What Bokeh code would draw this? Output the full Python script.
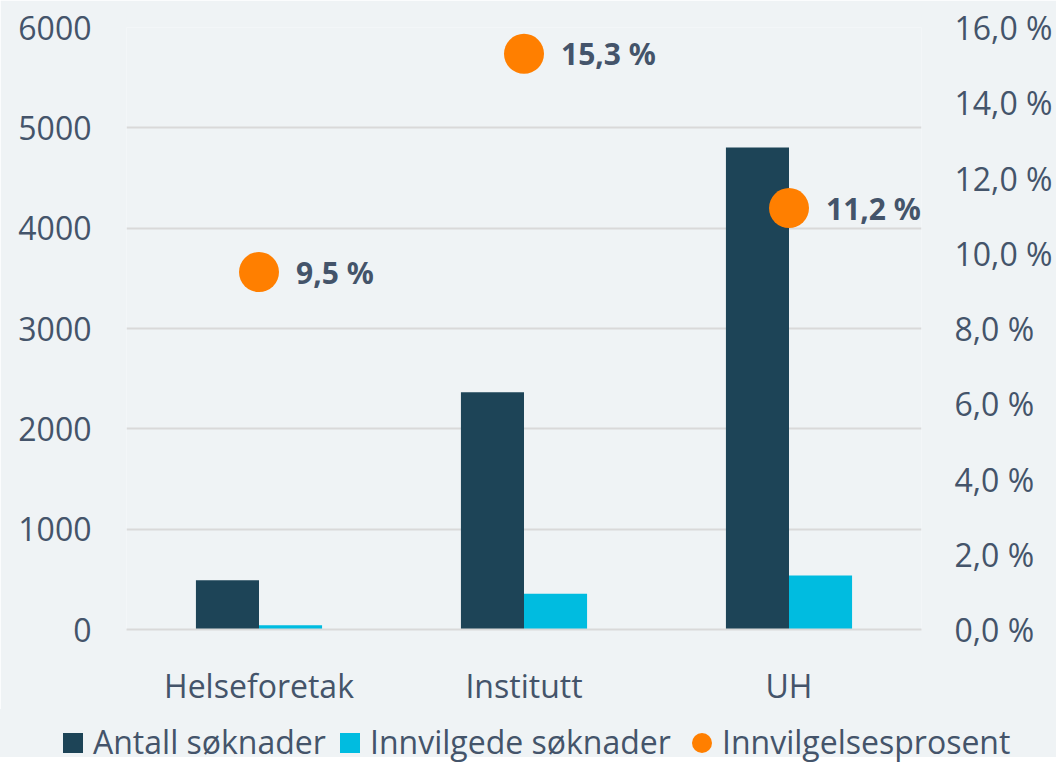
from bokeh.plotting import figure
from bokeh.models import (ColumnDataSource, FactorRange, Range1d, LinearAxis, FixedTicker,
                          LabelSet, Div)
from bokeh.layouts import column
from bokeh.core.properties import value
from bokeh.transform import dodge
from bokeh.embed import file_html
from bokeh.resources import INLINE

categories = ["Helseforetak", "Institutt", "UH"]
antall = [490, 2365, 4805]
innvilgede = [42, 357, 537]
prosent = [9.5, 15.3, 11.2]
prosent_labels = ["9,5 %", "15,3 %", "11,2 %"]
left_ticks = [0, 1000, 2000, 3000, 4000, 5000, 6000]
right_ticks = [0, 2, 4, 6, 8, 10, 12, 14, 16]
right_tick_labels = ["0,0 %", "2,0 %", "4,0 %", "6,0 %", "8,0 %", "10,0 %", "12,0 %", "14,0 %", "16,0 %"]
series_names = ["Antall søknader", "Innvilgede søknader", "Innvilgelsesprosent"]

BG = "#EFF3F5"
TXT = "#44546A"
FONT = "Open Sans"
BOLDFONT = "Noto Sans"
FS = "32px"
DARK = "#1D4457"
LIGHT = "#00BCE0"
ORANGE = "#FF7F00"
GRID = "#D9D9D9"

src = ColumnDataSource(dict(cat=categories, antall=antall, innvilgede=innvilgede,
                            prosent=prosent, lab=prosent_labels))

p = figure(width=1056, height=709, x_range=FactorRange(*categories), y_range=Range1d(0, 6000),
           output_backend="svg", toolbar_location=None,
           min_border_left=126, min_border_right=135, min_border_top=27, min_border_bottom=78)
p.background_fill_color = BG
p.border_fill_color = BG
p.outline_line_color = None
p.extra_y_ranges = {"pct": Range1d(0, 16)}

p.vbar(x=dodge("cat", -0.119, range=p.x_range), top="antall", width=0.238, source=src,
       fill_color=DARK, line_color=None)
p.vbar(x=dodge("cat", 0.119, range=p.x_range), top="innvilgede", width=0.238, source=src,
       fill_color=LIGHT, line_color=None)
p.scatter(x="cat", y="prosent", y_range_name="pct", size=40, source=src,
          fill_color=ORANGE, line_color=None)

labels = LabelSet(x="cat", y="prosent", y_range_name="pct", text="lab", source=src,
                  x_offset=37, y_offset=0, text_baseline="middle", text_align="left",
                  text_font=value(BOLDFONT), text_font_size=value("30px"),
                  text_font_style="bold", text_color=TXT)
p.add_layout(labels)

# left axis
p.yaxis.ticker = FixedTicker(ticks=left_ticks)
p.yaxis.axis_line_color = None
p.yaxis.major_tick_line_color = None
p.yaxis.major_tick_out = 0
p.yaxis.minor_tick_line_color = None
p.yaxis.major_label_standoff = 35
p.yaxis.major_label_text_font = FONT
p.yaxis.major_label_text_font_size = FS
p.yaxis.major_label_text_color = TXT

# right axis
ax2 = LinearAxis(y_range_name="pct", ticker=FixedTicker(ticks=right_ticks),
                 major_label_overrides={t: l for t, l in zip(right_ticks, right_tick_labels)})
ax2.axis_line_color = None
ax2.major_tick_line_color = None
ax2.major_tick_out = 0
ax2.minor_tick_line_color = None
ax2.major_label_standoff = 33
ax2.major_label_text_font = FONT
ax2.major_label_text_font_size = FS
ax2.major_label_text_color = TXT
p.add_layout(ax2, "right")

# x axis
p.xaxis.axis_line_color = GRID
p.xaxis.axis_line_width = 2
p.xaxis.major_tick_line_color = None
p.xaxis.major_tick_out = 0
p.xaxis.minor_tick_line_color = None
p.xaxis.major_label_standoff = 34
p.xaxis.major_label_text_font = FONT
p.xaxis.major_label_text_font_size = FS
p.xaxis.major_label_text_color = TXT

p.xgrid.grid_line_color = None
p.ygrid.ticker = FixedTicker(ticks=left_ticks)
p.ygrid.grid_line_color = GRID
p.ygrid.grid_line_width = 2

# legend strip
swatches = [
    (63, 93, "width:20px;height:20px;background:%s;" % DARK),
    (340, 370, "width:20px;height:20px;background:%s;" % LIGHT),
    (692, 722, "width:20px;height:20px;border-radius:50%%;background:%s;" % ORANGE),
]
parts = []
for (sx, tx, sw), name in zip(swatches, series_names):
    parts.append('<span style="position:absolute;left:%dpx;top:24px;%s"></span>' % (sx, sw))
    parts.append('<span style="position:absolute;left:%dpx;top:17px;line-height:32px;'
                 'white-space:nowrap;">%s</span>' % (tx, name))
html = ('<div style="position:relative;width:1056px;height:48px;background:%s;'
        'font-family:\'Open Sans\';font-size:32px;color:%s;">%s</div>') % (BG, TXT, "".join(parts))
leg = Div(text=html, width=1056, height=48, margin=0, styles={"background-color": BG})

layout = column(p, leg, spacing=0)
open("out.html", "w").write(file_html(layout, INLINE))
